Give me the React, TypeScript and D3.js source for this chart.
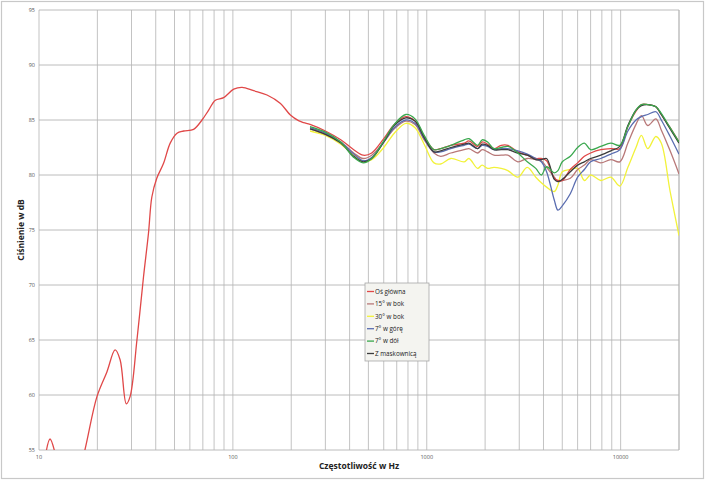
import React from "react";
import * as d3 from "d3";

const W = 705;
const H = 480;

// ---- data ----
const mainFreq = [10.8, 11.4, 12.2, 13.5, 15, 17.3, 19.9, 22.4, 24.7, 26.2, 28.2, 29.5, 32, 34.6, 36.7, 38.2, 40.5, 43.9, 47.5, 51.5, 55.7, 62.7, 69.3, 75, 81.2, 89.6, 101, 111.6, 128, 150, 176, 198, 218, 232];
const mainDb = [54.5, 56.0, 54.5, 51, 50.5, 55.1, 59.85, 62.1, 64.1, 63.2, 59.2, 59.85, 65, 70.75, 74.7, 78.0, 79.7, 81.06, 82.9, 83.8, 84.0, 84.15, 85, 85.9, 86.8, 87.03, 87.8, 87.97, 87.66, 87.27, 86.5, 85.45, 84.94, 84.76];

const freqs = [250, 300, 360, 420, 470, 520, 600, 680, 780, 870, 970, 1090, 1180, 1330, 1560, 1650, 1830, 1930, 2060, 2220, 2420, 2620, 2950, 3300, 3650, 3900, 4150, 4550, 4750, 5000, 5500, 6000, 6500, 7000, 7900, 8900, 9900, 10900, 12000, 12800, 13800, 15200, 16200, 18000, 20000];

const mainHigh = [84.6, 84.0, 83.2, 82.3, 81.8, 82.0, 83.3, 84.6, 85.3, 84.9, 83.5, 82.3, 82.4, 82.7, 82.9, 83.1, 82.6, 83.0, 82.8, 82.4, 82.7, 82.7, 82.1, 81.8, 81.5, 81.5, 81.3, 79.7, 79.5, 79.5, 80.5, 81.1, 81.7, 82.0, 82.3, 82.4, 82.4, 84.4, 85.8, 86.4, 86.4, 86.2, 85.5, 84.3, 83.0];
const side15 = [84.2, 83.7, 83.0, 82.0, 81.5, 81.8, 83.0, 84.2, 84.9, 84.6, 83.2, 82.0, 81.7, 82.0, 82.3, 82.4, 82.0, 82.3, 82.1, 81.8, 81.8, 81.8, 81.2, 81.5, 81.4, 81.3, 80.7, 79.8, 79.4, 79.5, 79.7, 80.5, 80.9, 81.4, 81.1, 81.4, 81.2, 82.9, 84.6, 85.4, 84.5, 85.1, 84.1, 82.2, 80.1];
const side30 = [84.0, 83.6, 82.8, 81.8, 81.2, 81.4, 82.5, 83.8, 84.7, 84.3, 82.8, 81.1, 81.0, 81.5, 81.2, 81.5, 80.6, 80.9, 80.6, 80.7, 80.6, 80.4, 79.8, 80.7, 79.8, 79.3, 78.9, 78.5, 79.1, 80.3, 80.5, 80.6, 79.5, 80.0, 79.5, 79.8, 79.0, 80.7, 82.5, 83.6, 82.4, 83.5, 82.9, 78.5, 74.5];
const up7 = [84.3, 83.8, 83.0, 81.9, 81.3, 81.6, 83.0, 84.3, 85.0, 84.7, 83.3, 82.1, 82.1, 82.4, 82.7, 82.8, 82.4, 82.7, 82.6, 82.3, 82.4, 82.4, 82.2, 81.9, 81.5, 81.2, 80.3, 77.7, 76.8, 77.2, 78.3, 79.8, 80.5, 81.2, 81.5, 81.9, 82.3, 84.0, 85.0, 85.3, 85.5, 85.75, 85.0, 83.5, 81.9];
const down7 = [84.4, 83.9, 83.0, 81.6, 81.1, 81.5, 83.1, 84.6, 85.5, 85.1, 83.6, 82.3, 82.4, 82.7, 83.2, 83.3, 82.7, 83.2, 83.0, 82.4, 82.5, 82.6, 82.0, 81.2, 80.6, 80.0, 80.75, 80.2, 80.4, 81.2, 81.7, 82.5, 82.9, 82.3, 82.6, 82.9, 82.7, 84.4, 85.9, 86.4, 86.4, 86.2, 85.6, 84.3, 83.0];
const grille = [84.2, 83.7, 82.9, 81.7, 81.2, 81.5, 83.0, 84.5, 85.2, 84.9, 83.4, 82.1, 82.2, 82.5, 82.8, 82.9, 82.4, 82.8, 82.7, 82.3, 82.3, 82.3, 82.0, 81.8, 81.4, 81.4, 81.5, 79.6, 79.4, 79.6, 80.3, 80.9, 81.2, 81.5, 81.8, 82.2, 82.6, 84.5, 85.9, 86.3, 86.4, 86.2, 85.5, 84.2, 82.9];

const seriesNames = ["Oś główna", "15° w bok", "30° w bok", "7° w górę", "7° w dół", "Z maskownicą"];
const seriesColors = ["#e04848", "#b87878", "#f2f23a", "#5a6db0", "#3aa84e", "#3c3c3c"];

const yTicks = [55, 60, 65, 70, 75, 80, 85, 90, 95];
const xLabelTicks = [10, 100, 1000, 10000];

export default function App() {
  const left = 39, right = 679, top = 10, bottom = 450;
  const x = d3.scaleLog().domain([10, 20000]).range([left, right]);
  const y = d3.scaleLinear().domain([55, 95]).range([bottom, top]);

  const grid: number[] = [];
  for (let d = 10; d <= 10000; d *= 10) {
    for (let m = 1; m <= 9; m++) {
      const v = d * m;
      if (v <= 20000) grid.push(v);
    }
  }
  grid.push(20000);

  const line = d3
    .line<[number, number]>()
    .x((d) => x(d[0]))
    .y((d) => y(d[1]))
    .curve(d3.curveCatmullRom.alpha(0.5));

  const mainAll: [number, number][] = [
    ...mainFreq.map((f, i) => [f, mainDb[i]] as [number, number]),
    ...freqs.map((f, i) => [f, mainHigh[i]] as [number, number]),
  ];
  const others = [side15, side30, up7, down7, grille];
  const paths: { d: string; color: string }[] = [];
  // draw order: others first, then main on top? keep green/black visible
  const order = [2, 1, 0, 3, 5, 4];
  order.forEach((si) => {
    let pts: [number, number][];
    if (si === 0) pts = mainAll;
    else pts = freqs.map((f, i) => [f, others[si - 1][i]] as [number, number]);
    paths.push({ d: line(pts) || "", color: seriesColors[si] });
  });

  const legX = 365, legY = 283, legW = 64, legH = 78;

  return (
    <svg
      width={W}
      height={H}
      style={{ position: "absolute", left: 0, top: 0, background: "#fff" }}
      fontFamily="'Open Sans', 'DejaVu Sans', sans-serif"
    >
      <rect x={1.5} y={1.5} width={W - 3} height={H - 3} fill="#fff" stroke="#c8c8c8" strokeWidth={1.2} />
      <defs>
        <clipPath id="plotclip">
          <rect x={left} y={top} width={right - left} height={bottom - top} />
        </clipPath>
      </defs>
      {/* grid */}
      {grid.map((g, i) => (
        <line key={"gx" + i} x1={x(g)} x2={x(g)} y1={top} y2={bottom} stroke="#b4b4b4" strokeWidth={0.8} />
      ))}
      {yTicks.map((t, i) => (
        <line key={"gy" + i} x1={left} x2={right} y1={y(t)} y2={y(t)} stroke="#b4b4b4" strokeWidth={0.9} />
      ))}
      {/* tick labels */}
      {yTicks.map((t, i) => (
        <text key={"yl" + i} x={left - 4} y={y(t) + 2} fontSize={5.5} fill="#555" textAnchor="end">
          {t}
        </text>
      ))}
      {xLabelTicks.map((t, i) => (
        <text key={"xl" + i} x={x(t)} y={bottom + 9} fontSize={5.5} fill="#555" textAnchor="middle">
          {t}
        </text>
      ))}
      {/* series */}
      <g clipPath="url(#plotclip)">
        {paths.map((p, i) => (
          <path key={"p" + i} d={p.d} fill="none" stroke={p.color} strokeWidth={1.3} />
        ))}
      </g>
      {/* axis titles */}
      <text
        transform={`translate(24, ${(top + bottom) / 2}) rotate(-90)`}
        textAnchor="middle"
        fontSize={8.5}
        fontWeight="bold"
        fill="#222"
      >
        Ciśnienie w dB
      </text>
      <text x={(left + right) / 2} y={469} textAnchor="middle" fontSize={8.5} fontWeight="bold" fill="#222">
        Częstotliwość w Hz
      </text>
      {/* legend */}
      <rect x={legX} y={legY} width={legW} height={legH} fill="#f4f4f0" stroke="#a8a8a8" strokeWidth={0.8} />
      {seriesNames.map((n, i) => {
        const yy = legY + 8.5 + i * 12.4;
        return (
          <g key={"lg" + i}>
            <line x1={legX + 2} x2={legX + 9} y1={yy} y2={yy} stroke={seriesColors[i]} strokeWidth={1.3} />
            <text x={legX + 10} y={yy + 2.3} fontSize={6.3} fill="#222">
              {n}
            </text>
          </g>
        );
      })}
    </svg>
  );
}
